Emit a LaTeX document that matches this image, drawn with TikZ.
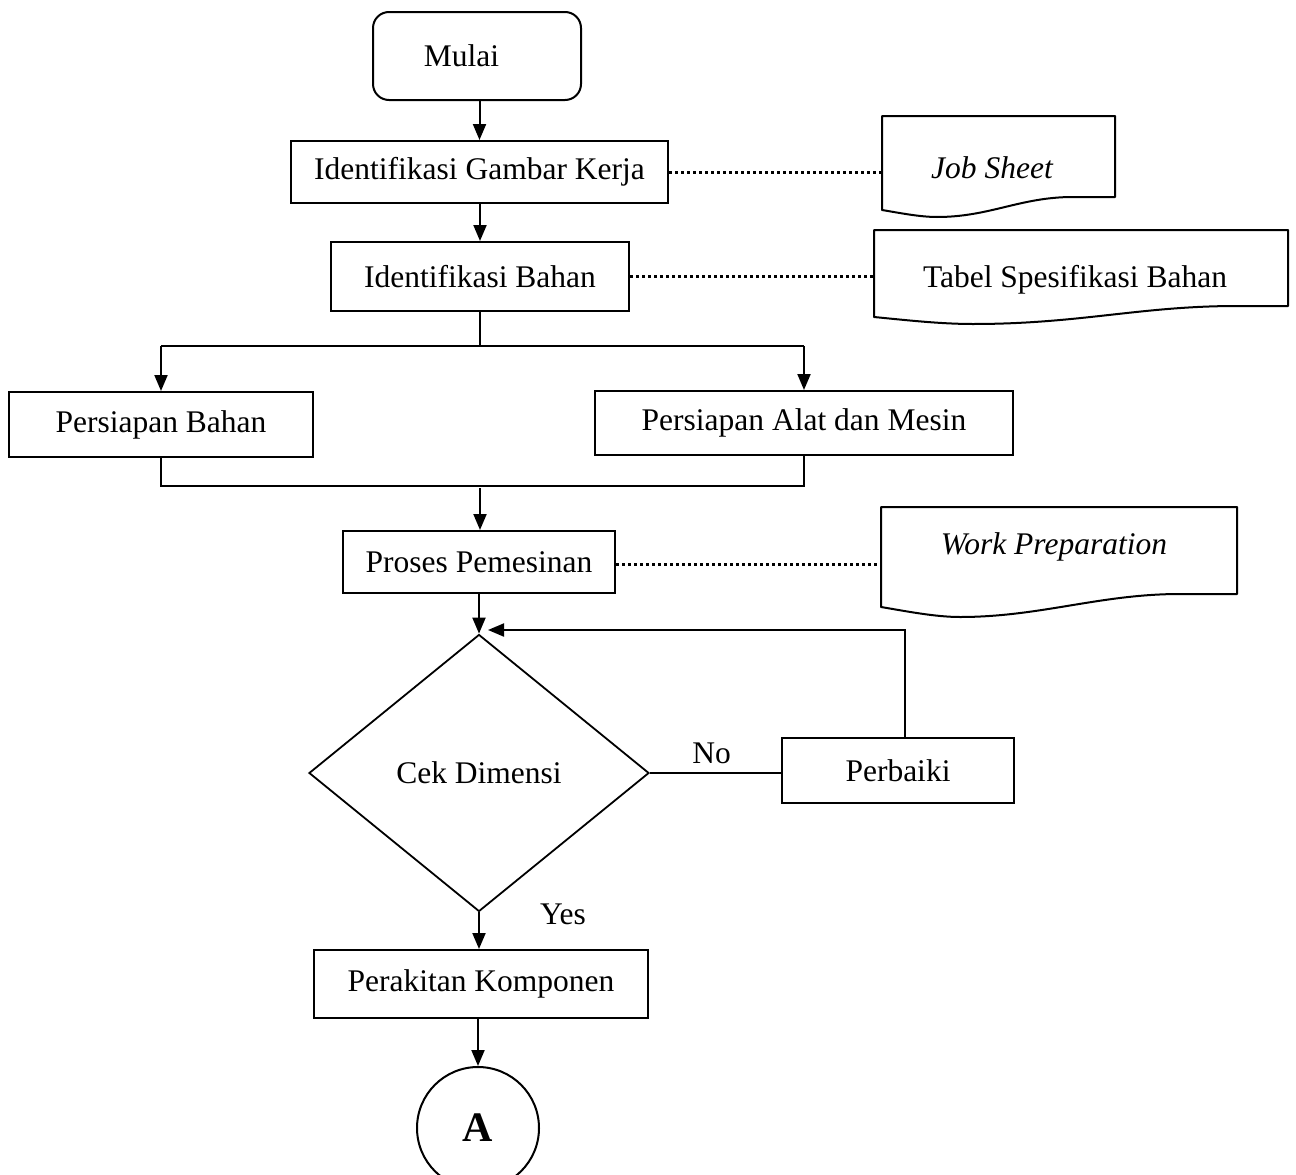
\documentclass[tikz,border=0pt]{standalone}
\usepackage{fontspec}
\setmainfont{Liberation Serif}
\usetikzlibrary{shapes.geometric,arrows.meta}
\begin{document}
\begin{tikzpicture}[x=1pt,y=-1pt,
  every node/.style={font=\fontsize{31.5}{38}\selectfont, inner sep=0pt},
  box/.style={draw, line width=2pt, rectangle},
  doc/.style={line width=2pt, line join=round},
  arr/.style={line width=2pt, -{Triangle[length=16pt,width=13pt]}},
  ln/.style={line width=1.8pt},
  dots/.style={line width=3pt, dash pattern=on 3pt off 3pt}
]
\useasboundingbox (0,0) rectangle (1296,1175);

% main nodes
\node[box, rounded corners=16pt, minimum width=208pt, minimum height=88pt] (mulai) at (477,56) {Mulai\rule{31pt}{0pt}};
\node[box, minimum width=377pt, minimum height=62pt] (gambar) at (479.5,172) {Identifikasi Gambar Kerja};
\node[box, minimum width=298pt, minimum height=69pt] (bahanid) at (480,276.5) {Identifikasi Bahan};
\node[box, minimum width=304pt, minimum height=65pt] (pb) at (161,424.5) {Persiapan Bahan};
\node[box, minimum width=418pt, minimum height=64pt] (pam) at (804,423) {Persiapan Alat dan Mesin};
\node[box, minimum width=272pt, minimum height=62pt] (proses) at (479,562) {Proses Pemesinan};
\node[draw, line width=1.8pt, shape=diamond, aspect=1.23, minimum width=340pt, minimum height=277pt] (cek) at (479,773) {Cek Dimensi};
\node[box, minimum width=232pt, minimum height=65pt] (perbaiki) at (898,770.5) {Perbaiki};
\node[box, minimum width=334pt, minimum height=68pt] (perakitan) at (481,984) {Perakitan Komponen};
\node[draw, line width=2pt, circle, minimum size=122pt, font=\fontsize{42}{50}\selectfont\bfseries] (A) at (478,1128) {A};

% documents (top part as node, wavy bottom drawn)
\node[minimum width=233pt, minimum height=81pt] (js) at (998.5,156.5) {};
\node (jst) at ([xshift=-6.5pt,yshift=-11.5pt]js.center) {\itshape Job Sheet};
\draw[doc] (1115,197) -- (1115,116) -- (882,116) -- (882,210)
  .. controls (900,213) and (920,217) .. (937,217)
  .. controls (990,217) and (1020,197) .. (1073,197) -- cycle;

\node[minimum width=414pt, minimum height=76pt] (tsb) at (1081,268) {};
\node (tsbt) at ([xshift=-6pt,yshift=-12pt]tsb.center) {Tabel Spesifikasi Bahan};
\draw[doc] (1288,306) -- (1288,230) -- (874,230) -- (874,317)
  .. controls (905,320) and (940,324) .. (973,324)
  .. controls (1080,324) and (1140,306) .. (1237,306) -- cycle;

\node[minimum width=356pt, minimum height=87pt] (wp) at (1059,550.5) {};
\node (wpt) at ([xshift=-5pt,yshift=3.5pt]wp.center) {\itshape Work Preparation};
\draw[doc] (1237,594) -- (1237,507) -- (881,507) -- (881,607)
  .. controls (905,611) and (935,617) .. (960,617)
  .. controls (1040,617) and (1100,594) .. (1180,594) -- cycle;

% dotted links
\draw[dots] (gambar.east) -- (gambar.east -| js.west);
\draw[dots] (bahanid.east) -- (bahanid.east -| tsb.west);
\draw[dots] ([yshift=-2pt]proses.east) -- ([yshift=-2pt]proses.east -| wp.west);

% flow
\coordinate (split) at (480,346);
\coordinate (merge) at (480,486);
\draw[arr] (mulai.south -| gambar.north) -- (gambar.north);
\draw[arr] (gambar.south -| bahanid.north) -- (bahanid.north);
\draw[ln] (bahanid.south) -- (split);
\draw[ln] (split -| pb.north) -- (split -| pam.north);
\draw[arr] (split -| pb.north) -- (pb.north);
\draw[arr] (split -| pam.north) -- (pam.north);
\draw[ln] (pb.south) -- (merge -| pb.south) -- (merge -| pam.south) -- (pam.south);
\draw[arr] ([yshift=-2pt]merge) -- (merge |- proses.north);
\draw[arr] (proses.south -| cek.north) -- (cek.north);
\draw[ln] (cek.east) -- node[above=8pt, pos=0.47] {No} (cek.east -| perbaiki.west);
\coordinate (up) at ([xshift=7pt]perbaiki.north);
\coordinate (back) at (up |- 0,630);
\draw[arr] (up) -- (back) -- ([xshift=9pt]back -| cek.north);
\draw[arr] (cek.south) -- node[right=60pt, pos=0.05] {Yes} (cek.south |- perakitan.north);
\draw[arr] (perakitan.south -| A.north) -- (A.north);
\end{tikzpicture}
\end{document}
